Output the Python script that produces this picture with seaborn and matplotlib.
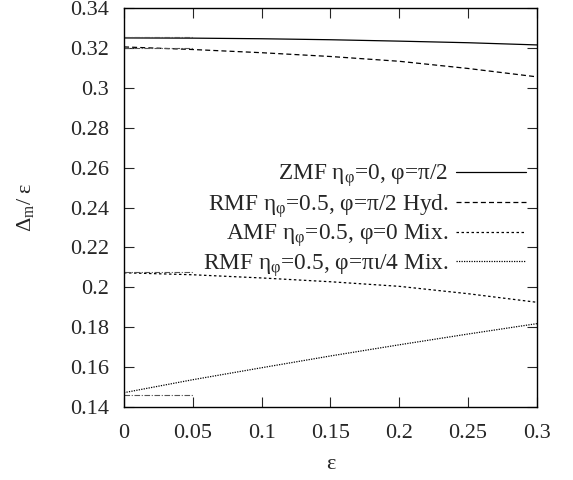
import numpy as np
import pandas as pd
import seaborn as sns
import matplotlib.pyplot as plt
from matplotlib.ticker import FuncFormatter

# valores
eps = [0.0, 0.05, 0.1, 0.15, 0.2, 0.25, 0.3]
zmf = [0.3250, 0.3249, 0.3246, 0.3241, 0.3234, 0.3226, 0.3215]
rmf_hyd = [0.3205, 0.3192, 0.3176, 0.3157, 0.3133, 0.3097, 0.3055]
amf_mix = [0.2073, 0.2063, 0.2047, 0.2028, 0.2005, 0.1968, 0.1925]
rmf_mix = [0.1472, 0.1537, 0.1597, 0.1656, 0.1712, 0.1766, 0.1818]

# segmentos curtos (aproximação) perto de eps=0
eps_curto = [0.0, 0.05]
aprox = [0.3255, 0.3198, 0.2075, 0.1458]

rotulos = ['ZMF η$_\\mathregular{φ}$=0, φ=π/2',
           'RMF η$_\\mathregular{φ}$=0.5, φ=π/2 Hyd.',
           'AMF η$_\\mathregular{φ}$=0.5, φ=0 Mix.',
           'RMF η$_\\mathregular{φ}$=0.5, φ=πι/4 Mix.']
estilos = ['-', (0, (4, 2.5)), (0, (2, 2)), (0, (1, 1))]

sns.set_style('ticks')
plt.rcParams['font.family'] = ['Liberation Serif', 'DejaVu Serif']
plt.rcParams['mathtext.fontset'] = 'custom'
plt.rcParams['mathtext.rm'] = 'Liberation Serif'
plt.rcParams['mathtext.it'] = 'Liberation Serif:italic'

fig = plt.figure(figsize=(5.73, 4.80), dpi=100)
ax = fig.add_axes([0.2164, 0.152, 0.7206, 0.8313])

for serie, rot, ls in zip([zmf, rmf_hyd, amf_mix, rmf_mix], rotulos, estilos):
    sns.lineplot(x=eps, y=serie, ax=ax, color='black', lw=0.9, linestyle=ls, label=rot)

for v in aprox:
    sns.lineplot(x=eps_curto, y=[v, v], ax=ax, color='#555555', lw=0.8,
                 linestyle=(0, (5, 1.5, 1, 1.5)), legend=False)

ax.set_xlim(0, 0.3)
ax.set_ylim(0.14, 0.34)
ax.set_xticks(np.arange(0, 0.301, 0.05))
ax.set_yticks(np.arange(0.14, 0.3401, 0.02))
fmt = FuncFormatter(lambda v, p: '%g' % round(v, 3))
ax.xaxis.set_major_formatter(fmt)
ax.yaxis.set_major_formatter(fmt)
ax.tick_params(direction='in', length=7, width=0.8, top=True, right=True,
               labelsize=16)
ax.tick_params(axis='x', pad=12)
ax.tick_params(axis='y', pad=11)
for s in ax.spines.values():
    s.set_linewidth(1.0)
    s.set_color('black')

ax.set_xlabel('ε', fontsize=16, labelpad=9)
ax.set_ylabel('Δ$_\\mathregular{m}$/ ε', fontsize=16, labelpad=24)

ax.legend(loc='upper right', bbox_to_anchor=(0.995, 0.637), frameon=False,
          markerfirst=False, fontsize=16.8, handlelength=3.0,
          labelspacing=0.12, handletextpad=0.3, borderaxespad=0)

plt.savefig('out.png', dpi=100)
